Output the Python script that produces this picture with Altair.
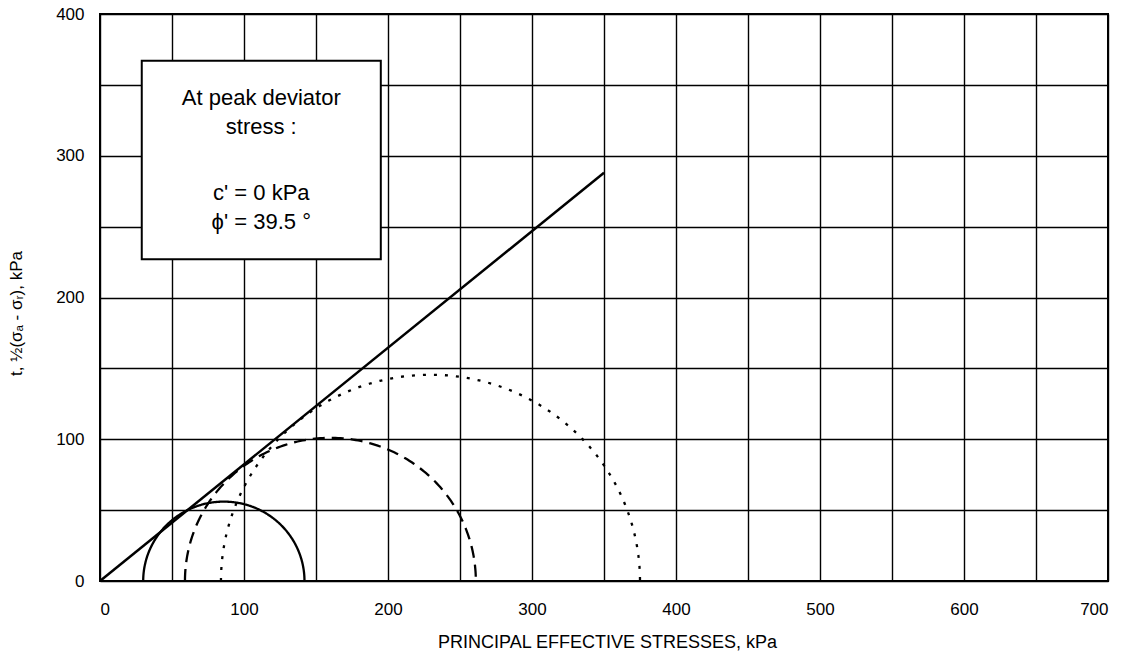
import altair as alt
import numpy as np
import pandas as pd

# --- data ---
circle_names = ["Test 1", "Test 2", "Test 3"]
circle_centers = [86, 160, 229.5]      # kPa
circle_radii = [56, 101, 145.5]        # kPa
circle_dash = [[1, 0], [12, 7], [3, 8]]

envelope_x = [0, 350]
envelope_y = [0, 288]

box_x = [29, 195]
box_y = [227, 367]
text_lines = ["At peak deviator", "stress :", "c' = 0 kPa", "\u03d5' = 39.5 \u00b0"]
text_y = [341, 320, 274, 253]
text_x = [112, 112, 112, 112]

x_ticks = list(range(0, 701, 50))
y_ticks = list(range(0, 401, 50))

# --- build tables ---
rows = []
theta = np.linspace(0, np.pi, 181)
for name, c, r in zip(circle_names, circle_centers, circle_radii):
    for i, t in enumerate(theta):
        rows.append({"name": name, "i": i, "x": c - r * np.cos(t), "y": r * np.sin(t)})
circles = pd.DataFrame(rows)
env = pd.DataFrame({"x": envelope_x, "y": envelope_y, "i": [0, 1]})
box = pd.DataFrame({"x": [box_x[0]], "x2": [box_x[1]], "y": [box_y[0]], "y2": [box_y[1]]})
txt = pd.DataFrame({"x": text_x, "y": text_y, "t": text_lines})

FONT = "Liberation Sans"

xscale = alt.Scale(domain=[0, 700], nice=False, zero=False)
yscale = alt.Scale(domain=[0, 400], nice=False, zero=False)

xaxis = alt.Axis(
    values=x_ticks,
    labelExpr="datum.value % 100 == 0 ? datum.label : ''",
    title="PRINCIPAL EFFECTIVE STRESSES, kPa",
    titleX=507, titleY=61, titleAlign="center", titleBaseline="middle",
    titleFontSize=18,
    labelPadding=20,
)
yaxis = alt.Axis(
    values=y_ticks,
    labelExpr="datum.value % 100 == 0 ? datum.label : ''",
    title="t, \u00bd(\u03c3\u2090 - \u03c3\u1d63), kPa",
    titleX=-84, titleY=299, titleAngle=-90, titleAlign="center", titleBaseline="middle",
    labelPadding=16,
)

base_env = alt.Chart(env).mark_line(color="black", strokeWidth=2.5).encode(
    x=alt.X("x:Q", scale=xscale, axis=xaxis),
    y=alt.Y("y:Q", scale=yscale, axis=yaxis),
    order="i:Q",
)

circ = alt.Chart(circles).mark_line(color="black", strokeWidth=2.3).encode(
    x=alt.X("x:Q", scale=xscale),
    y=alt.Y("y:Q", scale=yscale),
    detail="name:N",
    order="i:Q",
    strokeDash=alt.StrokeDash("name:N", scale=alt.Scale(domain=circle_names, range=circle_dash), legend=None),
)

rect = alt.Chart(box).mark_rect(fill="white", stroke="black", strokeWidth=2).encode(
    x=alt.X("x:Q", scale=xscale), x2="x2:Q",
    y=alt.Y("y:Q", scale=yscale), y2="y2:Q",
)

text = alt.Chart(txt).mark_text(font=FONT, fontSize=22, color="black", align="center", baseline="middle").encode(
    x=alt.X("x:Q", scale=xscale),
    y=alt.Y("y:Q", scale=yscale),
    text="t:N",
)

chart = alt.layer(base_env, circ, rect, text).properties(
    width=1008, height=567,
    padding={"left": 100, "top": 14, "right": 27, "bottom": 80},
    autosize=alt.AutoSizeParams(type="none"),
    background="white",
).configure_view(
    stroke="black", strokeWidth=2,
).configure_axis(
    grid=True, gridColor="black", gridOpacity=1, gridWidth=1.4,
    domain=False, ticks=False,
    labelFont=FONT, labelFontSize=17, labelColor="black",
    titleFont=FONT, titleFontSize=17, titleFontWeight="normal", titleColor="black",
)

chart.save("out.html", embed_options={"renderer": "svg", "actions": False})
